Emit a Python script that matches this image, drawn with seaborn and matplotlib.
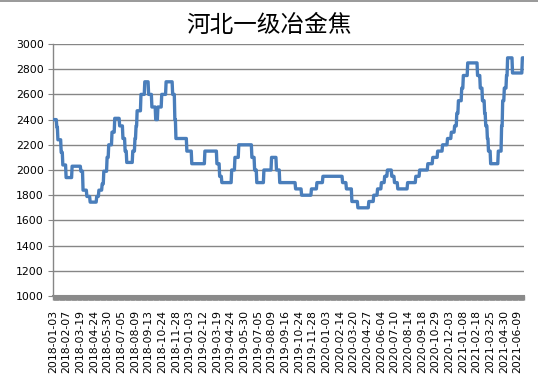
import numpy as np
import pandas as pd
import matplotlib
matplotlib.use("Agg")
import matplotlib.pyplot as plt
from matplotlib.lines import Line2D
import seaborn as sns

title = "河北一级冶金焦"

tick_labels = [
    "2018-01-03", "2018-02-07", "2018-03-19", "2018-04-24", "2018-05-30",
    "2018-07-05", "2018-08-09", "2018-09-13", "2018-10-24", "2018-11-28",
    "2019-01-03", "2019-02-12", "2019-03-19", "2019-04-24", "2019-05-30",
    "2019-07-05", "2019-08-09", "2019-09-16", "2019-10-24", "2019-11-28",
    "2020-01-03", "2020-02-14", "2020-03-20", "2020-04-27", "2020-06-04",
    "2020-07-10", "2020-08-14", "2020-09-18", "2020-10-29", "2020-12-03",
    "2021-01-08", "2021-02-18", "2021-03-25", "2021-04-30", "2021-06-09",
]
label_step = 25  # trading days between labelled categories

# price levels (yuan/t) and how many trading days each level lasted
levels = [
    2400, 2340, 2240, 2140, 2040, 1940, 2030, 1990, 1840, 1790,
    1745, 1790, 1840, 1890, 1990, 2100, 2200, 2300, 2410, 2350,
    2250, 2150, 2060, 2150, 2250, 2350, 2470, 2600, 2700, 2600,
    2500, 2400, 2500, 2600, 2700, 2600, 2400, 2250, 2150, 2050,
    2150, 2050, 1950, 1900, 2000, 2100, 2200, 2100, 2000, 1900,
    2000, 2100, 2000, 1900, 1850, 1800, 1850, 1900, 1950, 1900,
    1850, 1750, 1700, 1750, 1800, 1850, 1900, 1950, 2000, 1950,
    1900, 1850, 1900, 1950, 2000, 2050, 2100, 2150, 2200, 2250,
    2300, 2350, 2450, 2550, 2650, 2750, 2850, 2750, 2650, 2550,
    2450, 2350, 2250, 2150, 2050, 2150, 2350, 2550, 2650, 2750,
    2890, 2770, 2890,
]
days = [
    7, 2, 6, 3, 6, 11, 16, 4, 7, 6,
    12, 4, 6, 3, 6, 3, 6, 5, 9, 6,
    4, 3, 11, 4, 2, 2, 7, 7, 7, 6,
    7, 4, 7, 8, 12, 4, 2, 20, 9, 24,
    22, 5, 4, 18, 6, 7, 24, 5, 4, 13,
    14, 9, 6, 29, 11, 18, 10, 11, 36, 7,
    10, 11, 20, 9, 7, 7, 6, 5, 8, 5,
    6, 18, 15, 7, 15, 9, 9, 9, 9, 7,
    6, 4, 3, 6, 3, 8, 18, 5, 4, 4,
    2, 3, 2, 4, 14, 6, 2, 3, 4, 2,
    9, 18, 4,
]
yticks = list(range(1000, 3001, 200))

sns.set_theme(style="white")
plt.rcParams['font.family'] = ['Noto Sans CJK SC', 'DejaVu Sans']

values = np.repeat(levels, days)
df = pd.DataFrame({"idx": np.arange(len(values)), "price": values})

W, H = 538, 385
fig = plt.figure(figsize=(W / 100, H / 100), dpi=100)
fig.patch.set_facecolor("white")
ax = fig.add_axes([53 / W, 1 - 296 / H, (524 - 53) / W, (296 - 44) / H])

sns.lineplot(data=df, x="idx", y="price", ax=ax, color="#4A7EBB",
             linewidth=2.4, zorder=3)

ax.set_xlim(0, len(values) - 1)
ax.set_ylim(1000, 3000)
ax.set_yticks(yticks)
ax.set_yticklabels([str(v) for v in yticks], family="DejaVu Sans", fontsize=7.8)
ax.yaxis.grid(True, color="#868686", linewidth=1.0)
ax.xaxis.grid(False)

ax.set_xticks(np.arange(len(tick_labels)) * label_step)
ax.set_xticklabels(tick_labels, rotation=90, family="DejaVu Sans", fontsize=7.8)
ax.set_xticks(np.arange(len(values)), minor=True)
ax.tick_params(axis="x", which="both", direction="out", length=3.0,
               width=1.0, color="#8a8a8a", pad=7, bottom=True)
ax.tick_params(axis="y", which="major", direction="out", length=3.5,
               width=0.8, color="#868686", pad=3, left=True, labelcolor="black")
ax.tick_params(axis="x", labelcolor="black")

for s in ["top", "right"]:
    ax.spines[s].set_visible(False)
ax.spines["left"].set_color("#868686")
ax.spines["left"].set_linewidth(1.0)
ax.spines["bottom"].set_color("#8a8a8a")
ax.spines["bottom"].set_linewidth(1.5)

ax.set_xlabel("")
ax.set_ylabel("")

fig.text(0.5, 1 - 25 / H, title, ha="center", va="center", fontsize=17,
         fontweight="medium",
         family=['Noto Sans CJK SC', 'DejaVu Sans'], color="black")

fig.add_artist(Line2D([0, 1], [1 - 0.5 / H, 1 - 0.5 / H], transform=fig.transFigure,
                      color="#888888", linewidth=1.2))

fig.savefig("out.png", dpi=100, facecolor="white")
